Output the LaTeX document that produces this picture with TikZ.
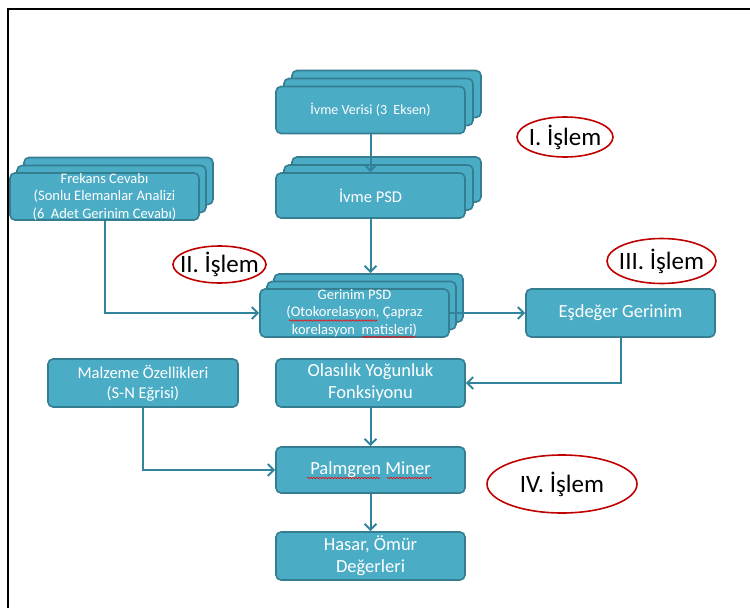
\documentclass[tikz,border=0pt]{standalone}
\usepackage{fontspec}
\setmainfont{Carlito}
\usetikzlibrary{arrows.meta,decorations.pathmorphing,calc}
\definecolor{boxfill}{HTML}{4BACC6}
\definecolor{boxline}{HTML}{357D91}
\definecolor{flow}{HTML}{31849B}
\definecolor{ring}{HTML}{C00000}

\begin{document}
\begin{tikzpicture}[x=1pt,y=-1pt,
  box/.style={draw=boxline, line width=1.6pt, fill=boxfill, rounded corners=5pt,
    text=white, align=center, inner sep=0pt, minimum width=189pt, minimum height=47pt},
  tiny/.style={font=\fontsize{14}{16}\selectfont},
  small/.style={font=\fontsize{14.5}{17.5}\selectfont},
  mid/.style={font=\fontsize{16.5}{20}\selectfont},
  big/.style={font=\fontsize{18.5}{22}\selectfont},
  flowline/.style={draw=flow, line width=2pt,
    -{Straight Barb[length=6pt,width=12pt,line width=2pt]}},
  tag/.style={inner sep=0pt, font=\fontsize{25}{28}\selectfont},
  ringline/.style={draw=ring, line width=1.6pt},
  spell/.style={draw=red, line width=0.6pt, decorate,
    decoration={snake, amplitude=0.7pt, segment length=3pt}}]

% page area and frame
\useasboundingbox (0,0) rectangle (750,608);
\draw[line width=2.5pt, black] (8,608) -- (8,9) -- (750,9);

% stacked input: acceleration data
\node[box] (ivmeC) at (386.5,94) {};
\node[box] (ivmeB) at (378.5,102) {};
\node[box, tiny] (ivme) at (370.5,110) {İvme Verisi (3~~Eksen)};

% stacked acceleration PSD
\node[box, minimum height=45pt] (ivmepsdC) at (386.5,179.5) {};
\node[box, minimum height=45pt] (ivmepsdB) at (378.5,187.5) {};
\node[box, minimum height=45pt, mid] (ivmepsd) at (370.5,195.5) {İvme PSD};

% stacked frequency response
\node[box] (frekansC) at (118.5,181) {};
\node[box] (frekansB) at (111.5,189) {};
\node[box, small] (frekans) at (104.5,196.5)
  {Frekans Cevabı\\(Sonlu Elemanlar Analizi\\(6~~Adet Gerinim Cevabı)};

% stacked strain PSD
\node[box, minimum height=48pt] (gerinimC) at (368.5,298) {};
\node[box, minimum height=48pt] (gerinimB) at (361.5,305.5) {};
\node[box, minimum height=48pt, small] (gerinim) at (354.5,313)
  {Gerinim PSD\\(Otokorelasyon, Çapraz\\korelasyon~~matisleri)};

% single boxes
\node[box, minimum height=48pt, big] (esdeger) at (620.5,313) {Eşdeğer Gerinim};
\node[box, minimum height=48pt, big] (olasilik) at (370.5,383) {Olasılık Yoğunluk\\Fonksiyonu};
\node[box, minimum height=48pt, minimum width=190pt, mid] (malzeme) at (143,383)
  {Malzeme Özellikleri\\(S-N Eğrisi)};
\node[box, minimum height=46pt, big] (palmgren) at (370.5,470) {Palmgren Miner};
\node[box, minimum height=48pt, big] (hasar) at (370.5,556) {Hasar, Ömür\\Değerleri};

% spell-check marks
\draw[spell] (289,320.5) -- (377,320.5);
\draw[spell] (362,337) -- (415,337);
\draw[spell] (307,478) -- (380,478);
\draw[spell] (387,478) -- (432,478);

% process stage labels with their red rings
\node[tag] (t1) at (565,137) {I. İşlem};
\node[tag] (t2) at (219.5,264.5) {II. İşlem};
\node[tag] (t3) at (661.5,261) {III. İşlem};
\node[tag] (t4) at (562,484) {IV. İşlem};
\draw[ringline] (t1.center) ellipse [x radius=48, y radius=20];
\draw[ringline] (t2.center) ellipse [x radius=46.5, y radius=18.5];
\draw[ringline] (t3.center) ellipse [x radius=54.5, y radius=22.5];
\draw[ringline] (t4.center) ellipse [x radius=75, y radius=29];

% flow connectors
\draw[flowline] (ivme.south) -- (ivmepsd.north);
\draw[flowline] (ivmepsd.south) -- (ivmepsd.south |- gerinimC.north);
\draw[flowline] (frekans.south) |- (gerinim.west);
\draw[flowline] (gerinim.east) -- (esdeger.west);
\draw[flowline] (esdeger.south) |- (olasilik.east);
\draw[flowline] (olasilik.south) -- (palmgren.north);
\draw[flowline] (malzeme.south) |- (palmgren.west);
\draw[flowline] (palmgren.south) -- (hasar.north);
\end{tikzpicture}
\end{document}
